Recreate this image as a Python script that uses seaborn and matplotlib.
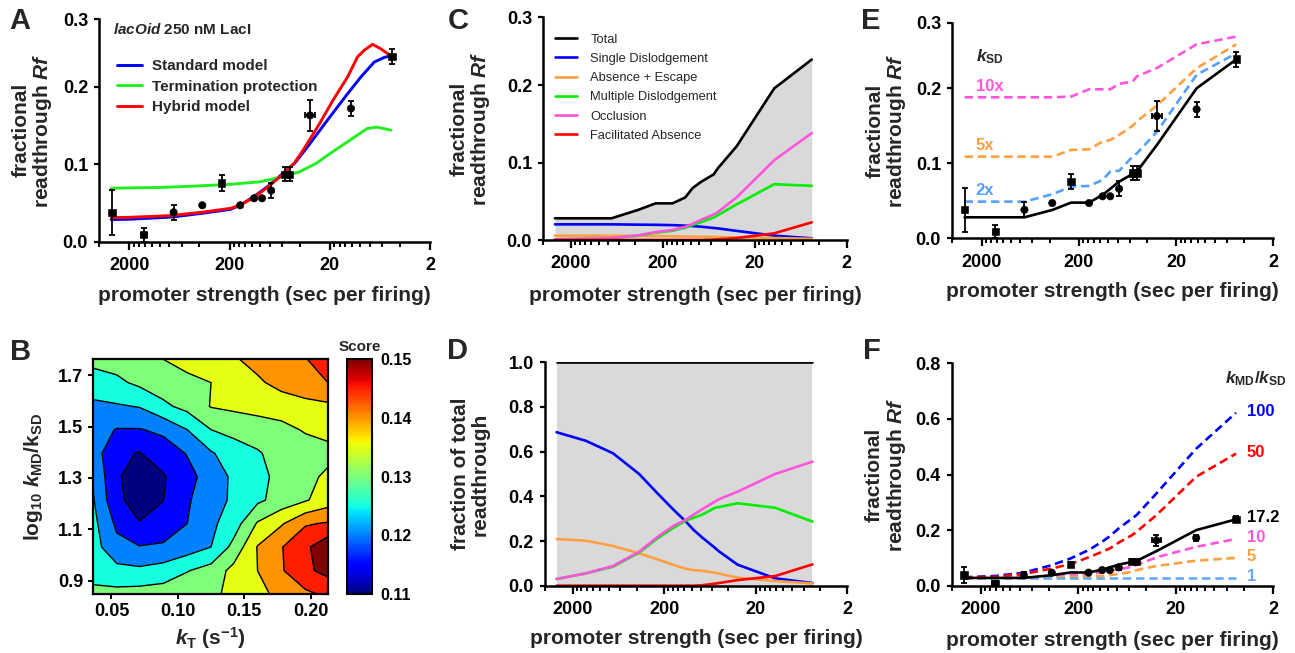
import numpy as np
import matplotlib
matplotlib.use('Agg')
import matplotlib.pyplot as plt
from matplotlib.ticker import FixedLocator, NullFormatter
from matplotlib.colors import Normalize
from matplotlib.cm import ScalarMappable
import seaborn as sns

# ---------------- data ----------------
# measured readthrough (lacOid, 250 nM LacI)
data_x = [2990, 1440, 725, 375, 240, 157, 114, 95, 77, 56, 50.5, 31.5, 12.3, 4.8]
data_y = [0.038, 0.009, 0.038, 0.047, 0.076, 0.047, 0.056, 0.056, 0.066, 0.087, 0.087, 0.163, 0.172, 0.239]
data_yerr = [0.029, 0.009, 0.010, 0, 0.010, 0, 0, 0, 0.010, 0.009, 0.009, 0.020, 0.010, 0.010]
data_xerr = [0, 100, 0, 0, 0, 0, 0, 0, 0, 0, 0, 3.5, 0, 0]
data_marker = ['s', 's', 'o', 'o', 's', 'o', 'o', 'o', 'o', 's', 's', 'o', 'o', 's']

# panel A simulated curves
std_x = [3040, 2000, 1000, 733, 380, 197, 158, 115, 84, 61.5, 45, 33.4, 21.1, 13.3, 9.8, 7.2, 5.7, 4.9]
std_y = [0.0285, 0.029, 0.031, 0.032, 0.0366, 0.0417, 0.047, 0.058, 0.071, 0.086, 0.101, 0.1224,
         0.157, 0.191, 0.2126, 0.232, 0.238, 0.240]
tp_x = [3040, 2000, 1000, 500, 200, 100, 60, 40.4, 27.5, 18.8, 12.6, 8.5, 6.8, 4.9]
tp_y = [0.069, 0.0695, 0.070, 0.0715, 0.074, 0.0773, 0.0838, 0.090, 0.101, 0.116, 0.131, 0.146, 0.148, 0.144]
hyb_x = [3040, 2000, 1000, 733, 380, 197, 158, 115, 84, 61.5, 45, 37, 25.3, 18.6, 13.3, 10.6, 9.1, 7.5, 6.2, 5.0]
hyb_y = [0.031, 0.0315, 0.033, 0.034, 0.038, 0.043, 0.047, 0.057, 0.070, 0.085, 0.102, 0.118, 0.1525,
         0.1826, 0.2126, 0.2384, 0.247, 0.2548, 0.249, 0.2406]

# model evaluated at the measured promoter strengths
model_x = [2990, 1440, 725, 375, 240, 157, 114, 95, 77, 56, 50.5, 31.5, 12.3, 4.8]

# panel C: readthrough by mechanism
total_c = [0.028, 0.028, 0.028, 0.0387, 0.0473, 0.0473, 0.055, 0.067, 0.075, 0.0847, 0.0925, 0.121, 0.1957, 0.233]
sd_c = [0.0202, 0.0202, 0.0202, 0.0198, 0.0196, 0.0192, 0.0185, 0.018, 0.0172, 0.0155, 0.015, 0.0118, 0.0056, 0.0022]
ae_c = [0.0056, 0.0056, 0.0055, 0.0053, 0.0051, 0.0048, 0.0045, 0.0043, 0.0042, 0.0040, 0.0038, 0.0033, 0.0025, 0.0015]
md_c = [0.0009, 0.0015, 0.0024, 0.0055, 0.0095, 0.012, 0.0158, 0.0195, 0.023, 0.029, 0.032, 0.046, 0.072, 0.070]
occ_c = [0.0009, 0.0015, 0.0025, 0.006, 0.0102, 0.013, 0.017, 0.021, 0.026, 0.033, 0.036, 0.055, 0.103, 0.138]
fa_c = [0, 0, 0, 0, 0, 0, 0, 0, 0, 0.0005, 0.0008, 0.0025, 0.0086, 0.0228]

# panel D: fraction of total readthrough
total_d = [1.0, 1.0, 1.0, 1.0, 1.0, 1.0, 1.0, 1.0, 1.0, 1.0, 1.0, 1.0, 1.0, 1.0]
sd_d = [0.687, 0.649, 0.593, 0.50, 0.416, 0.339, 0.284, 0.249, 0.216, 0.170, 0.154, 0.094, 0.033, 0.012]
ae_d = [0.209, 0.2015, 0.178, 0.145, 0.119, 0.0925, 0.075, 0.070, 0.067, 0.058, 0.054, 0.036, 0.021, 0.010]
md_d = [0.030, 0.055, 0.085, 0.148, 0.21, 0.26, 0.293, 0.304, 0.318, 0.348, 0.352, 0.369, 0.349, 0.287]
occ_d = [0.030, 0.055, 0.088, 0.152, 0.216, 0.269, 0.297, 0.319, 0.342, 0.376, 0.387, 0.421, 0.50, 0.555]
fa_d = [0, 0, 0, 0, 0, 0, 0, 0, 0.002, 0.009, 0.012, 0.025, 0.043, 0.0955]

# panel E: kSD varied
fit_e = [0.028, 0.028, 0.028, 0.0378, 0.0476, 0.0476, 0.0578, 0.066, 0.0756, 0.0858, 0.089, 0.1244, 0.20, 0.2387]
sd2_e = [0.0489, 0.0489, 0.0489, 0.0587, 0.0689, 0.0698, 0.0778, 0.0889, 0.090, 0.1089, 0.1133, 0.142, 0.218, 0.2467]
sd5_e = [0.1089, 0.1089, 0.1089, 0.1089, 0.1178, 0.1187, 0.129, 0.131, 0.138, 0.150, 0.156, 0.177, 0.2267, 0.2587]
sd10_e = [0.188, 0.188, 0.188, 0.188, 0.189, 0.1987, 0.1987, 0.1987, 0.206, 0.209, 0.216, 0.227, 0.2587, 0.269]

# panel F: kMD/kSD varied (17.2 is the fit shown in E)
r100_f = [0.030, 0.035, 0.047, 0.074, 0.098, 0.128, 0.158, 0.178, 0.206, 0.242, 0.254, 0.332, 0.493, 0.622]
r50_f = [0.030, 0.032, 0.042, 0.062, 0.078, 0.102, 0.122, 0.134, 0.155, 0.182, 0.194, 0.254, 0.392, 0.475]
r10_f = [0.026, 0.027, 0.029, 0.033, 0.038, 0.042, 0.048, 0.054, 0.059, 0.068, 0.074, 0.102, 0.140, 0.168]
r5_f = [0.026, 0.026, 0.027, 0.029, 0.032, 0.033, 0.035, 0.038, 0.042, 0.050, 0.056, 0.071, 0.090, 0.100]
r1_f = [0.029, 0.029, 0.029, 0.029, 0.029, 0.029, 0.029, 0.029, 0.029, 0.029, 0.029, 0.029, 0.029, 0.029]

# panel B: fit score over kT and log10(kMD/kSD)
kt_vals = [0.036, 0.054, 0.071, 0.089, 0.107, 0.125, 0.142, 0.160, 0.178, 0.196, 0.213]
ratio_vals = [0.848, 0.939, 1.031, 1.122, 1.214, 1.305, 1.396, 1.488, 1.579, 1.671, 1.762]
score_rows = [  # bottom row first
    [0.1285, 0.129, 0.1295, 0.130, 0.131, 0.1315, 0.13375, 0.136, 0.139, 0.1415, 0.1435],
    [0.126, 0.124, 0.1235, 0.1245, 0.12725, 0.1295, 0.134, 0.1375, 0.142, 0.1465, 0.149],
    [0.1245, 0.119, 0.11775, 0.1185, 0.120, 0.1225, 0.129, 0.13775, 0.14225, 0.1465, 0.151],
    [0.124, 0.1165, 0.11275, 0.11325, 0.1175, 0.1215, 0.125, 0.133, 0.137, 0.142, 0.143],
    [0.123, 0.1135, 0.1105, 0.11245, 0.117, 0.120, 0.1235, 0.1265, 0.1295, 0.132, 0.135],
    [0.122, 0.113, 0.1105, 0.112, 0.116, 0.1195, 0.1235, 0.126, 0.129, 0.131, 0.1335],
    [0.120, 0.1135, 0.11225, 0.115, 0.11775, 0.122, 0.125, 0.127, 0.1295, 0.130, 0.131],
    [0.1195, 0.11725, 0.11725, 0.1185, 0.1225, 0.1275, 0.129, 0.130, 0.131, 0.133, 0.134],
    [0.1215, 0.122, 0.12275, 0.1265, 0.129, 0.13275, 0.1335, 0.13425, 0.135, 0.13575, 0.1365],
    [0.125, 0.1265, 0.1285, 0.130, 0.131, 0.1325, 0.1355, 0.13675, 0.139, 0.141, 0.1425],
    [0.129, 0.1295, 0.1315, 0.1325, 0.1345, 0.1355, 0.137, 0.139, 0.1405, 0.14225, 0.145],
]

# ---------------- style ----------------
sns.set_theme(style='ticks')
plt.rcParams['font.family'] = ['Liberation Sans', 'DejaVu Sans']
plt.rcParams['font.weight'] = 'bold'
plt.rcParams['axes.labelweight'] = 'bold'
plt.rcParams['mathtext.fontset'] = 'custom'
plt.rcParams['mathtext.rm'] = 'Liberation Sans:bold'
plt.rcParams['mathtext.it'] = 'Liberation Sans:italic:bold'
plt.rcParams['mathtext.bf'] = 'Liberation Sans:bold'
plt.rcParams['axes.linewidth'] = 1.8
plt.rcParams['axes.edgecolor'] = 'black'
plt.rcParams['xtick.color'] = 'black'
plt.rcParams['ytick.color'] = 'black'

BLUE, GREEN, RED = '#0000ff', '#00ee00', '#ff0000'
ORANGE, PINK, LBLUE = '#ffa040', '#ff55dd', '#55a0ff'
GREY = '#d9d9d9'
DASH = (0, (3.2, 1.8))
TICK_FS = 13
LAB_FS = 15

W, H = 1295, 653
fig = plt.figure(figsize=(W / 100, H / 100), dpi=100)


def px_axes(left, top, right, bottom):
    return fig.add_axes([left / W, 1 - bottom / H, (right - left) / W, (bottom - top) / H])


def prism_axes(ax, ymax, yticks, ylabels, ylabel, ylab_x, xlab_y):
    ax.set_xscale('log')
    ax.set_xlim(4000, 2)
    ax.set_ylim(0, ymax)
    ax.xaxis.set_major_locator(FixedLocator([2000, 200, 20, 2]))
    ax.set_xticklabels(['2000', '200', '20', '2'])
    minors = [4000] + [k * 200 for k in range(2, 10)] + [k * 20 for k in range(2, 10)] + [k * 2 for k in range(2, 10)]
    ax.xaxis.set_minor_locator(FixedLocator(minors))
    ax.xaxis.set_minor_formatter(NullFormatter())
    ax.set_yticks(yticks)
    ax.set_yticklabels(ylabels)
    ax.tick_params(axis='x', which='major', length=6, width=1.6, labelsize=TICK_FS, pad=5)
    ax.tick_params(axis='x', which='minor', length=3.5, width=1.4)
    ax.tick_params(axis='y', length=3.5, width=1.6, labelsize=TICK_FS, pad=4.6)
    sns.despine(ax=ax)
    ax.set_xlabel('promoter strength (sec per firing)', fontsize=LAB_FS)
    ax.xaxis.set_label_coords(0.5, xlab_y)
    ax.set_ylabel(ylabel, fontsize=LAB_FS, linespacing=1.05)
    ax.yaxis.set_label_coords(ylab_x, 0.5)


def add_data(ax):
    ax.errorbar(data_x, data_y, yerr=data_yerr, xerr=data_xerr, fmt='none', ecolor='black',
                elinewidth=1.3, capsize=2.5, capthick=1.3, zorder=4)
    sns.scatterplot(x=data_x, y=data_y, style=data_marker, markers={'s': 's', 'o': 'o'},
                    color='black', edgecolor='black', s=28, legend=False, ax=ax, zorder=5)


def line(ax, x, y, color, lw=1.9, ls='-', label=None):
    sns.lineplot(x=x, y=y, color=color, lw=lw, linestyle=ls, estimator=None, sort=False,
                 ax=ax, label=label, legend=False)


RF_LABEL = 'fractional\nreadthrough $Rf$'
TOP3 = 0.2875

# ---------------- A ----------------
ax_a = px_axes(99.3, 19, 430, 241.7)
line(ax_a, std_x, std_y, BLUE, lw=2.1, label='Standard model')
line(ax_a, tp_x, tp_y, '#22ee22', lw=2.1, label='Termination protection')
line(ax_a, hyb_x, hyb_y, RED, lw=2.1, label='Hybrid model')
add_data(ax_a)
prism_axes(ax_a, TOP3, [0, 0.1, 0.2, TOP3], ['0.0', '0.1', '0.2', '0.3'], RF_LABEL, -0.137, -0.199)
ax_a.text(0.04, 0.953, '$lacOid$ 250 nM LacI', transform=ax_a.transAxes, fontsize=11, va='center')
ax_a.legend(loc='upper left', bbox_to_anchor=(0.055, 0.819), frameon=False, fontsize=11,
            handlelength=1.63, handletextpad=0.6, labelspacing=0.42, borderpad=0, borderaxespad=0)

# ---------------- C ----------------
ax_c = px_axes(543.3, 17.3, 846.7, 240)
ax_c.fill_between(model_x, total_c, color=GREY, lw=0)
line(ax_c, model_x, total_c, 'black', label='Total')
line(ax_c, model_x, sd_c, BLUE, label='Single Dislodgement')
line(ax_c, model_x, ae_c, ORANGE, label='Absence + Escape')
line(ax_c, model_x, md_c, GREEN, label='Multiple Dislodgement')
line(ax_c, model_x, occ_c, PINK, label='Occlusion')
line(ax_c, model_x, fa_c, RED, label='Facilitated Absence')
prism_axes(ax_c, TOP3, [0, 0.1, 0.2, TOP3], ['0.0', '0.1', '0.2', '0.3'], RF_LABEL, -0.168, -0.206)
ax_c.legend(loc='upper left', bbox_to_anchor=(0.038, 0.927), frameon=False,
            prop={'weight': 'normal', 'size': 9.3},
            handlelength=1.75, handletextpad=1.0, labelspacing=0.56, borderpad=0, borderaxespad=0)

# ---------------- E ----------------
ax_e = px_axes(952.3, 22.7, 1273.3, 238.3)
line(ax_e, model_x, sd10_e, PINK, ls=DASH)
line(ax_e, model_x, sd5_e, ORANGE, ls=DASH)
line(ax_e, model_x, sd2_e, LBLUE, ls=DASH)
line(ax_e, model_x, fit_e, 'black')
add_data(ax_e)
prism_axes(ax_e, TOP3, [0, 0.1, 0.2, TOP3], ['0.0', '0.1', '0.2', '0.3'], RF_LABEL, -0.138, -0.203)
ax_e.text(2300, 0.242, '$k_{\\rm SD}$', fontsize=12.5, va='center', ha='left')
for vals, txt, col in [(sd10_e, '10x', PINK), (sd5_e, '5x', ORANGE), (sd2_e, '2x', LBLUE)]:
    ax_e.text(2300, vals[0] + 0.0145, txt, color=col, fontsize=12, va='center', ha='left')

# ---------------- B ----------------
ax_b = px_axes(92.5, 359.3, 328.3, 594)
levels = np.arange(0.1075, 0.1551, 0.005)
ax_b.contourf(kt_vals, ratio_vals, score_rows, levels=levels, cmap='jet', vmin=0.11, vmax=0.15)
ax_b.contour(kt_vals, ratio_vals, score_rows, levels=levels[1:-1], colors='black', linewidths=1.0)
ax_b.set_xlim(0.0357, 0.2133)
ax_b.set_ylim(0.848, 1.762)
ax_b.set_xticks([0.05, 0.10, 0.15, 0.20])
ax_b.set_xticklabels(['0.05', '0.10', '0.15', '0.20'])
ax_b.set_yticks([0.9, 1.1, 1.3, 1.5, 1.7])
ax_b.set_yticklabels(['0.9', '1.1', '1.3', '1.5', '1.7'])
ax_b.tick_params(length=3.5, width=1.4, labelsize=TICK_FS, pad=3)
for sp in ax_b.spines.values():
    sp.set_linewidth(1.6)
ax_b.set_xlabel('$k_{\\rm T}$ (s$^{-1}$)', fontsize=LAB_FS)
ax_b.xaxis.set_label_coords(0.5, -0.132)
ax_b.set_ylabel('log$_{10}$ $k_{\\rm MD}$/k$_{\\rm SD}$', fontsize=LAB_FS)
ax_b.yaxis.set_label_coords(-0.2, 0.5)

cax = px_axes(346.7, 359.3, 372.3, 594)
cb = fig.colorbar(ScalarMappable(norm=Normalize(0.11, 0.15), cmap='jet'), cax=cax)
cb.set_ticks([0.11, 0.12, 0.13, 0.14, 0.15])
cb.set_ticklabels(['0.11', '0.12', '0.13', '0.14', '0.15'])
cb.ax.tick_params(direction='in', length=3, width=1.2, labelsize=11.5, pad=6)
cb.outline.set_linewidth(1.5)
fig.text(360 / W, 1 - 347 / H, 'Score', ha='center', va='center', fontsize=11)

# ---------------- D ----------------
ax_d = px_axes(545, 362.3, 847.3, 585.7)
ax_d.fill_between(model_x, total_d, color=GREY, lw=0)
line(ax_d, model_x, total_d, 'black')
line(ax_d, model_x, sd_d, BLUE)
line(ax_d, model_x, ae_d, ORANGE)
line(ax_d, model_x, md_d, GREEN)
line(ax_d, model_x, occ_d, PINK)
line(ax_d, model_x, fa_d, RED)
prism_axes(ax_d, 1.0, [0, 0.2, 0.4, 0.6, 0.8, 1.0], ['0.0', '0.2', '0.4', '0.6', '0.8', '1.0'],
           'fraction of total\nreadthrough', -0.184, -0.194)

# ---------------- F ----------------
ax_f = px_axes(951.7, 363.3, 1273, 585.7)
line(ax_f, model_x, r100_f, BLUE, ls=DASH)
line(ax_f, model_x, r50_f, RED, ls=DASH)
line(ax_f, model_x, r10_f, PINK, ls=DASH)
line(ax_f, model_x, r5_f, ORANGE, ls=DASH)
line(ax_f, model_x, r1_f, '#66aaff', ls=DASH)
line(ax_f, model_x, fit_e, 'black')
add_data(ax_f)
prism_axes(ax_f, 0.8, [0, 0.2, 0.4, 0.6, 0.8], ['0.0', '0.2', '0.4', '0.6', '0.8'],
           RF_LABEL, -0.137, -0.204)
ax_f.text(6.2, 0.744, '$k_{\\rm MD}/k_{\\rm SD}$', fontsize=12.5, va='center', ha='left', clip_on=False)
for vals, txt, col in [(r100_f, '100', BLUE), (r50_f, '50', RED), (fit_e, '17.2', 'black'),
                       (r10_f, '10', PINK), (r5_f, '5', ORANGE), (r1_f, '1', '#66aaff')]:
    ax_f.text(3.7, vals[-1] + 0.005, txt, color=col, fontsize=12, va='center', ha='left', clip_on=False)

# ---------------- panel letters ----------------
for txt, x, y in [('A', 9, 7), ('C', 448, 7), ('E', 861, 7), ('B', 10, 338), ('D', 447, 337), ('F', 863, 337)]:
    fig.text(x / W, 1 - y / H, txt, fontsize=21, fontweight='bold', ha='left', va='top')

fig.savefig('out.png', dpi=100)
